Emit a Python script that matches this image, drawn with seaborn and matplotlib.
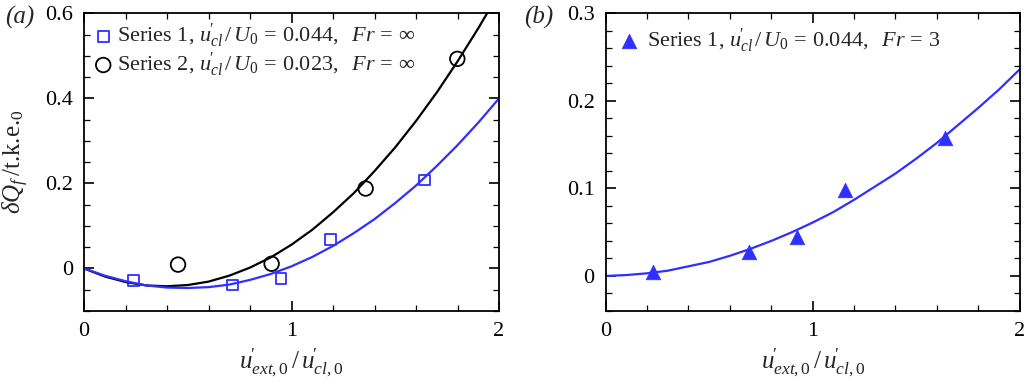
import matplotlib
matplotlib.use("Agg")
import matplotlib.pyplot as plt
import pandas as pd
import seaborn as sns
from matplotlib.ticker import MultipleLocator, FixedLocator, FixedFormatter


# panel (a) data points
s1_x = [0.238, 0.715, 0.949, 1.186, 1.639]
s1_y = [-0.028, -0.039, -0.024, 0.068, 0.208]
s2_x = [0.453, 0.904, 1.357, 1.799]
s2_y = [0.009, 0.011, 0.188, 0.493]

# fitted curves, x = 0, 0.1, ..., 2.0
curve_x = [0.0, 0.1, 0.2, 0.3, 0.4, 0.5, 0.6, 0.7, 0.8, 0.9, 1.0,
           1.1, 1.2, 1.3, 1.4, 1.5, 1.6, 1.7, 1.8, 1.9, 2.0]
s1_fit = [0.0, -0.017, -0.030, -0.040, -0.045, -0.046, -0.044, -0.038, -0.027, -0.013, 0.005,
          0.027, 0.053, 0.083, 0.116, 0.154, 0.195, 0.241, 0.290, 0.343, 0.400]
s2_fit = [0.0, -0.019, -0.032, -0.040, -0.042, -0.039, -0.031, -0.017, 0.002, 0.026, 0.056,
          0.091, 0.132, 0.177, 0.229, 0.285, 0.347, 0.414, 0.487, 0.565, 0.648]

# panel (b)
s3_x = [0.230, 0.693, 0.923, 1.158, 1.641]
s3_y = [0.004, 0.027, 0.045, 0.098, 0.158]
s3_fit = [0.0, 0.001, 0.003, 0.006, 0.011, 0.016, 0.023, 0.031, 0.040, 0.050, 0.061,
          0.073, 0.087, 0.102, 0.117, 0.134, 0.152, 0.172, 0.192, 0.213, 0.236]

x_ticks = [0, 1, 2]
x_ticklabels = ["0", "1", "2"]
ya_ticks = [0, 0.2, 0.4, 0.6]
ya_ticklabels = ["0", "0.2", "0.4", "0.6"]
yb_ticks = [0, 0.1, 0.2, 0.3]
yb_ticklabels = ["0", "0.1", "0.2", "0.3"]

UCL = r"u^{\!\prime}_{cl}"
legend_a = [r"Series 1, $" + UCL + r"\,/\,U_0\,=\,0.044,\ \ Fr\,=\,\infty$",
            r"Series 2, $" + UCL + r"\,/\,U_0\,=\,0.023,\ \ Fr\,=\,\infty$"]
legend_b = [r"Series 1, $" + UCL + r"\,/\,U_0\,=\,0.044,\ \ Fr\,=\,3$"]

BLUE = "#2f2fff"
XLABEL = r"$u^{\!\prime}_{ext,0}\,/\,u^{\!\prime}_{cl,0}$"
YLABEL = r"$\delta Q_f\,$/t.k.e.$_0$"


def style_axes(ax, yticks, yticklabels, yminor):
    ax.set_xlim(0, 2)
    ax.xaxis.set_major_locator(FixedLocator(x_ticks))
    ax.xaxis.set_major_formatter(FixedFormatter(x_ticklabels))
    ax.xaxis.set_minor_locator(MultipleLocator(0.2))
    ax.yaxis.set_major_locator(FixedLocator(yticks))
    ax.yaxis.set_major_formatter(FixedFormatter(yticklabels))
    ax.yaxis.set_minor_locator(MultipleLocator(yminor))
    ax.tick_params(which="both", direction="in", top=True, right=True,
                   labelsize=16, colors="black", pad=8)
    ax.tick_params(which="major", length=7, width=1.2)
    ax.tick_params(which="minor", length=4, width=0.9)
    for sp in ax.spines.values():
        sp.set_color("black")
        sp.set_linewidth(1.3)
    ax.set_xlabel(XLABEL, fontsize=18, labelpad=4)
    ax.grid(False)


def main() -> None:
    sns.set_theme(style="ticks")
    plt.rcParams["font.family"] = "serif"
    plt.rcParams["font.serif"] = ["Liberation Serif"]
    plt.rcParams["mathtext.fontset"] = "custom"
    plt.rcParams["mathtext.rm"] = "Liberation Serif"
    plt.rcParams["mathtext.it"] = "Liberation Serif:italic"
    plt.rcParams["mathtext.bf"] = "Liberation Serif:bold"

    fig = plt.figure(figsize=(10.3, 3.82), dpi=100)
    ax1 = fig.add_axes([0.0816, 0.186, 0.4029, 0.779])
    ax2 = fig.add_axes([0.588, 0.186, 0.402, 0.779])

    df1 = pd.DataFrame({"x": s1_x, "y": s1_y})
    df2 = pd.DataFrame({"x": s2_x, "y": s2_y})
    df3 = pd.DataFrame({"x": s3_x, "y": s3_y})
    fit = pd.DataFrame({"x": curve_x, "a1": s1_fit, "a2": s2_fit, "b": s3_fit})

    # panel (a)
    sns.lineplot(data=fit, x="x", y="a2", ax=ax1, color="black", lw=1.6, sort=False)
    sns.lineplot(data=fit, x="x", y="a1", ax=ax1, color=BLUE, lw=1.6, sort=False)
    sns.scatterplot(data=df1, x="x", y="y", ax=ax1, marker="s", s=60,
                    facecolors="none", edgecolor=BLUE, linewidth=1.3, label=legend_a[0])
    sns.scatterplot(data=df2, x="x", y="y", ax=ax1, marker="o", s=110,
                    facecolors="none", edgecolor="black", linewidth=1.3, label=legend_a[1])
    ax1.set_ylim(-0.1, 0.6)
    style_axes(ax1, ya_ticks, ya_ticklabels, 0.05)
    ax1.set_ylabel(YLABEL, fontsize=18, labelpad=10)
    ax1.legend(loc="upper left", frameon=False, fontsize=16, handletextpad=0.1,
               borderaxespad=0.3, labelspacing=0.0, handlelength=1.0,
               bbox_to_anchor=(-0.018, 1.025))

    # panel (b)
    sns.lineplot(data=fit, x="x", y="b", ax=ax2, color=BLUE, lw=1.6, sort=False)
    sns.scatterplot(data=df3, x="x", y="y", ax=ax2, marker="^", s=110,
                    color=BLUE, edgecolor=BLUE, linewidth=0.5, label=legend_b[0])
    ax2.set_ylim(-0.04, 0.3)
    style_axes(ax2, yb_ticks, yb_ticklabels, 0.02)
    ax2.set_ylabel("")
    ax2.legend(loc="upper left", frameon=False, fontsize=16, handletextpad=0.1,
               borderaxespad=0.3, handlelength=1.4, bbox_to_anchor=(-0.018, 1.01))

    fig.text(0.005, 0.955, "(a)", fontsize=18, style="italic", va="center")
    fig.text(0.509, 0.955, "(b)", fontsize=18, style="italic", va="center")

    fig.savefig("out.png", dpi=100)
    plt.close(fig)


if __name__ == "__main__":
    main()
